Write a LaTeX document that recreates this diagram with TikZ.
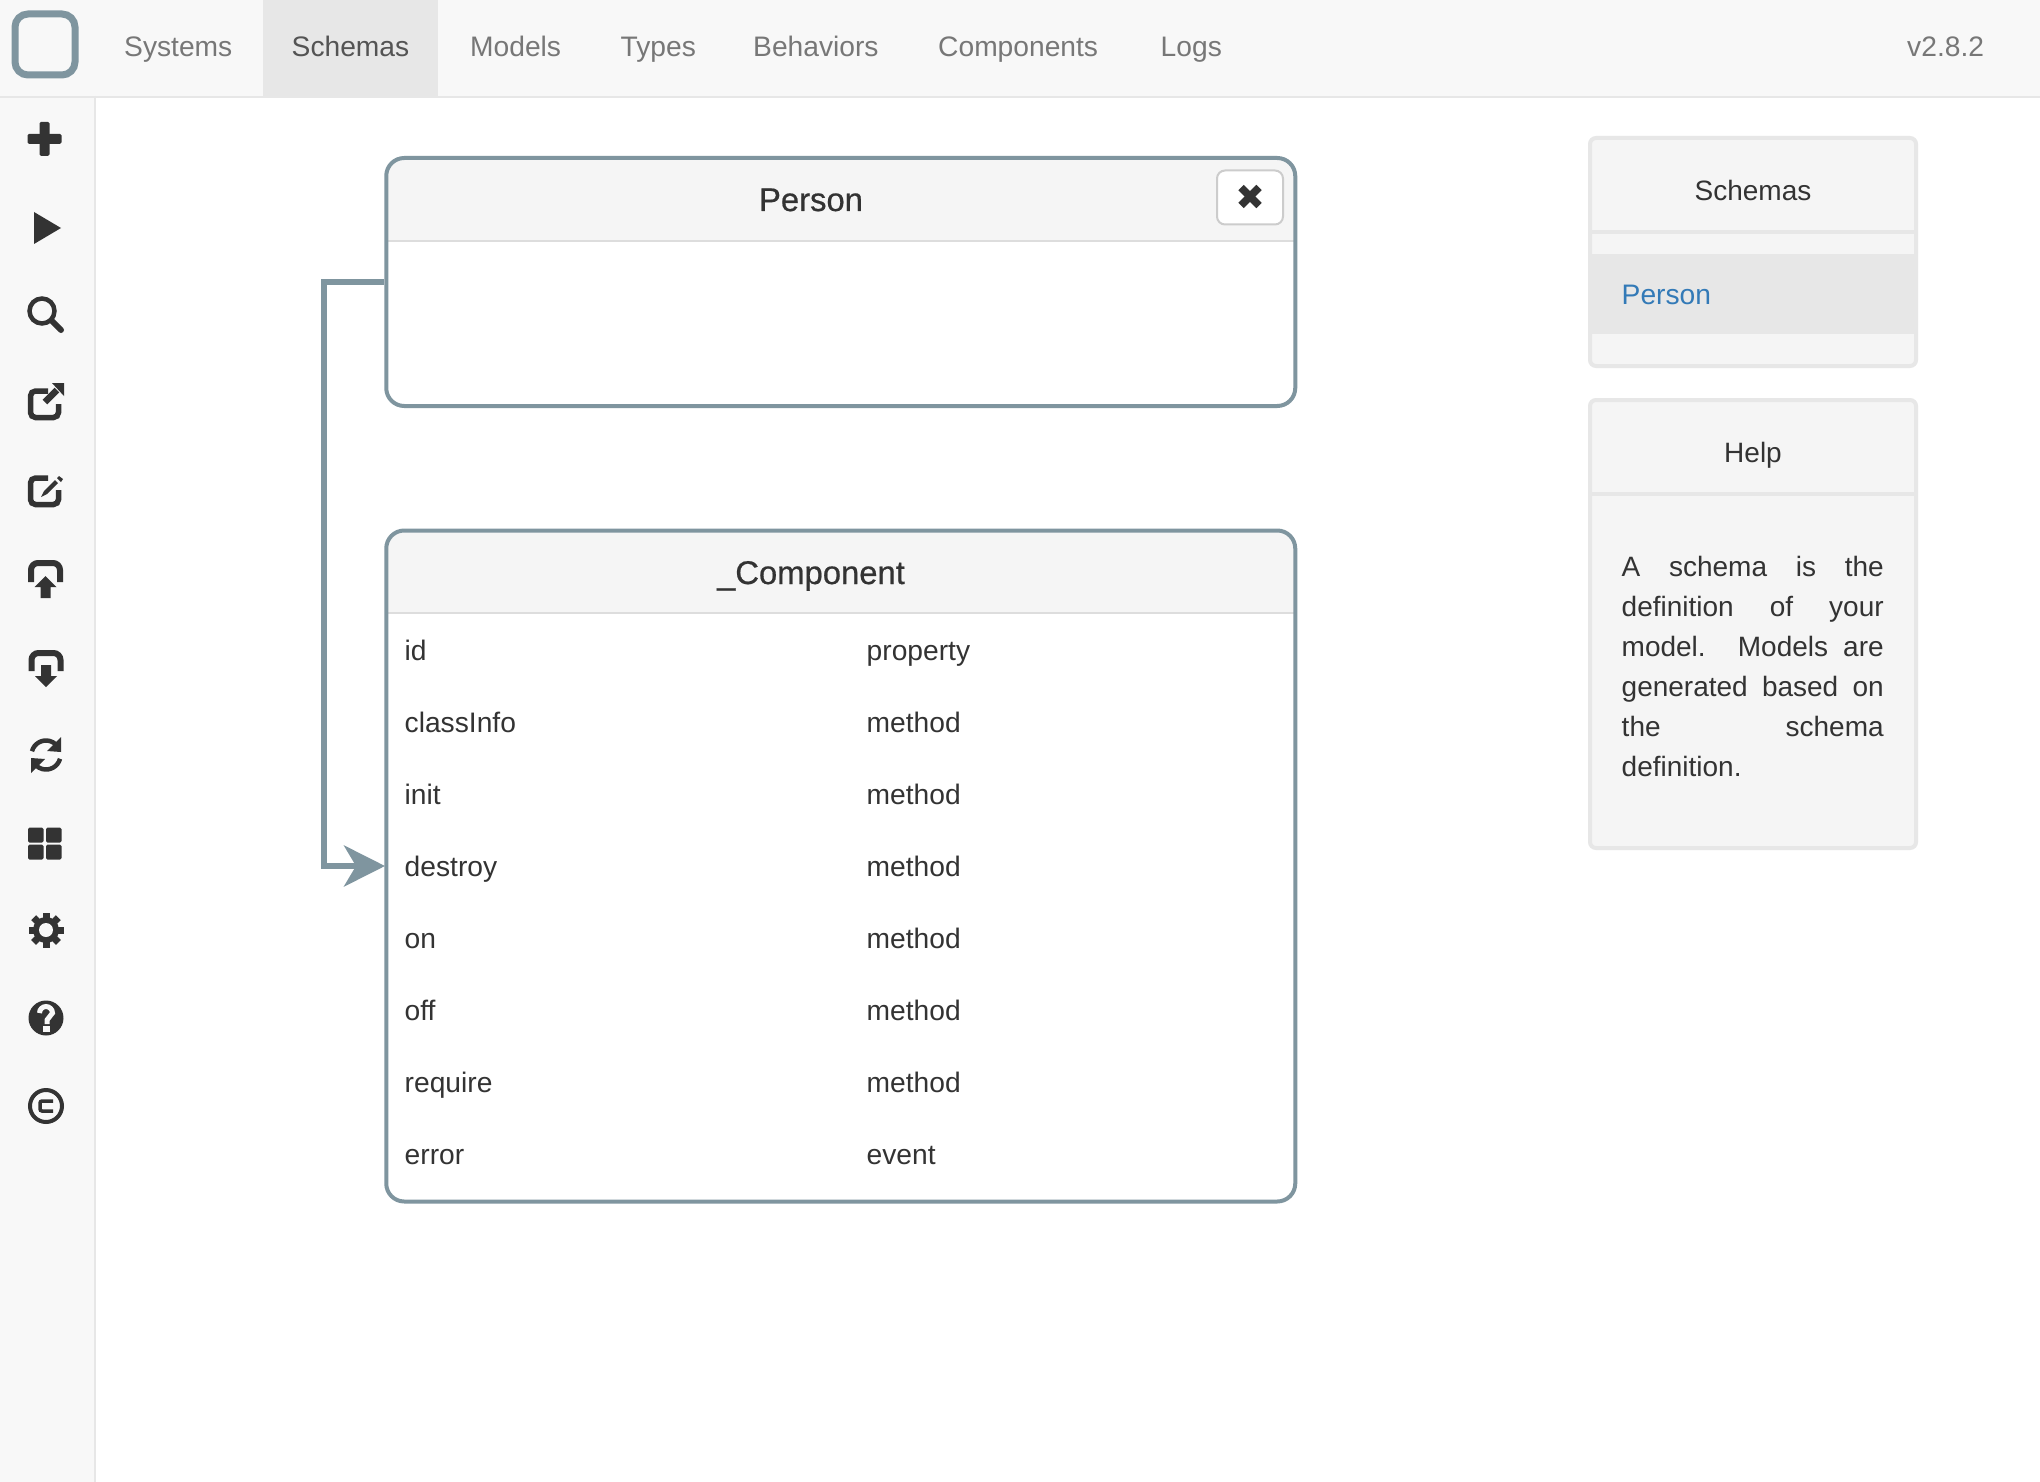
\documentclass[tikz,border=0pt]{standalone}
\usepackage{fontspec}
\setmainfont{Liberation Sans}
\newfontfamily\titlefont[FakeBold=0.6]{Liberation Sans}
\usetikzlibrary{arrows.meta}

\definecolor{barbg}{HTML}{F8F8F8}
\definecolor{barline}{HTML}{E7E7E7}
\definecolor{navtext}{HTML}{777777}
\definecolor{inktext}{HTML}{333333}
\definecolor{slate}{HTML}{7F959F}
\definecolor{headbg}{HTML}{F5F5F5}
\definecolor{headline}{HTML}{DDDDDD}
\definecolor{linkblue}{HTML}{337AB7}

\tikzset{
  navitem/.style={anchor=base west,inner sep=0pt,text=navtext,font=\fontsize{28.2}{34}\selectfont},
  rowtext/.style={anchor=base west,inner sep=0pt,text=inktext,font=\fontsize{28.2}{34}\selectfont},
  paneltitle/.style={anchor=base,inner sep=0pt,text=inktext,font=\fontsize{28}{34}\selectfont},
  boxtitle/.style={anchor=base,inner sep=0pt,text=inktext,font=\titlefont\fontsize{32.8}{38}\selectfont},
  schemabox/.style={draw=slate,line width=4pt,rounded corners=18pt,inner sep=0pt,minimum width=909pt},
  sidepanel/.style={draw=barline,fill=headbg,line width=4pt,rounded corners=6pt,inner sep=0pt,minimum width=326pt},
  linkline/.style={draw=slate,line width=6pt,-{Stealth[length=41pt,width=41pt,inset=12pt]}},
  iconink/.style={draw=inktext,fill=none,line width=5.5pt},
}

\begin{document}
\begin{tikzpicture}[x=1pt,y=-1pt]
  \useasboundingbox (0,0) rectangle (2040,1482);
  \fill[white] (0,0) rectangle (2040,1482);

  % bars
  \fill[barbg] (0,0) rectangle (95,1482);
  \fill[barbg] (0,0) rectangle (2040,96);
  \fill[barline] (263,0) rectangle (438,96);
  \draw[barline,line width=2pt] (95,96) -- (95,1482);
  \draw[barline,line width=2pt] (0,97) -- (2040,97);
  \draw[slate,line width=7pt,rounded corners=13pt] (15,14) rectangle (75,75);

  % menu
  \foreach \px/\label in {124/Systems,470/Models,620.5/Types,753/Behaviors,938/Components,1160.5/Logs,1907/v2.8.2}
    \node[navitem] (nav\label) at (\px,57) {\label};
  \node[navitem,text=black!67] (navSchemas) at (291.5,57) {Schemas};

  % sidebar icons
  \begin{scope}[shift={(44.5,139)}]
    \fill[inktext,rounded corners=1.5pt] (-17,-5) rectangle (17,5);
    \fill[inktext,rounded corners=1.5pt] (-5,-17) rectangle (5,17);
  \end{scope}
  \begin{scope}[shift={(46,228)}]
    \fill[inktext] (-12,-16) -- (15,0) -- (-12,16) -- cycle;
  \end{scope}
  \begin{scope}[shift={(46,315)}]
    \draw[iconink,line width=4.5pt] (-4,-4) circle (12.5pt);
    \draw[iconink,line width=6pt,line cap=round] (6,6) -- (15,15);
  \end{scope}
  \begin{scope}[shift={(46,402)}]
    \draw[iconink,rounded corners=5pt] (2,-11) -- (-15.5,-11) -- (-15.5,15.5) -- (12.5,15.5) -- (12.5,2);
    \fill[inktext] (6,-19) -- (18,-19) -- (18,-6) -- cycle;
    \draw[iconink,line width=6.5pt] (11,-12) -- (-1,0);
  \end{scope}
  \begin{scope}[shift={(46,490)}]
    \draw[iconink,rounded corners=5pt] (2,-12) -- (-15.5,-12) -- (-15.5,14.5) -- (12.5,14.5) -- (12.5,0);
    \fill[inktext] (-5,7) -- (-2,1) -- (9,-10) -- (12,-7) -- (1,4) -- cycle;
    \fill[inktext] (11,-12) -- (13,-14) -- (17,-11) -- (15,-8) -- cycle;
  \end{scope}
  \begin{scope}[shift={(45.5,578)}]
    \draw[iconink,line width=6pt,rounded corners=7pt] (-14.5,4) -- (-14.5,-15) -- (14.5,-15) -- (14.5,4);
    \fill[inktext] (0,-2) -- (11,9) -- (5,9) -- (5,20) -- (-5,20) -- (-5,9) -- (-11,9) -- cycle;
  \end{scope}
  \begin{scope}[shift={(46,668)}]
    \draw[iconink,line width=6pt,rounded corners=7pt] (-14.5,3) -- (-14.5,-15) -- (14.5,-15) -- (14.5,3);
    \fill[inktext] (0,19) -- (11,8) -- (5,8) -- (5,-3) -- (-5,-3) -- (-5,8) -- (-11,8) -- cycle;
  \end{scope}
  \begin{scope}[shift={(46,755)}]
    \draw[iconink,line width=4.5pt] ({14.5*cos(165)},{-14.5*sin(165)}) arc (165:45:14.5pt);
    \draw[iconink,line width=4.5pt] ({14.5*cos(15)},{14.5*sin(15)}) arc (-15:-135:14.5pt);
    \fill[inktext] (15,-18) -- (15,-3) -- (1,-4) -- cycle;
    \fill[inktext] (-15,18) -- (-15,3) -- (-1,4) -- cycle;
  \end{scope}
  \begin{scope}[shift={(44.5,843.5)}]
    \foreach \qx/\qy in {-16.5/-16,1.5/-16,-16.5/1,1.5/1}
      \fill[inktext,rounded corners=1.5pt] (\qx,\qy) rectangle ++(15.5,15);
  \end{scope}
  \begin{scope}[shift={(46,930)}]
    \foreach \a in {0,45,135,90}
      \fill[inktext,rotate=\a] (-3.5,-17.5) rectangle (3.5,17.5);
    \fill[inktext] (0,0) circle (13pt);
    \fill[barbg] (0,0) circle (7pt);
  \end{scope}
  \begin{scope}[shift={(46,1018)}]
    \fill[inktext] (0,0) circle (17.5pt);
    \draw[barbg,line width=5pt] (-6.5,-5) arc (180:0:6.5pt) -- (1,2) -- (1,6);
    \fill[barbg] (-3.5,8) rectangle (3.5,14);
  \end{scope}
  \begin{scope}[shift={(46,1106)}]
    \draw[iconink,line width=4pt] (0,0) circle (16pt);
    \draw[iconink,line width=3.5pt,rounded corners=2pt] (7,-5) -- (-6,-5) -- (-6,5) -- (7,5);
  \end{scope}

  % schema boxes
  \foreach \top/\low in {158/240.5,530.5/613}
    \fill[headbg] (386,\low) [rounded corners=18pt] -- (386,\top) -- (1295.5,\top) [sharp corners] -- (1295.5,\low) -- cycle;
  \draw[headline,line width=2pt] (388,241) -- (1294,241);
  \draw[headline,line width=2pt] (388,613) -- (1294,613);
  \node[schemabox,minimum height=248pt] (personbox) at (840.75,282) {};
  \node[schemabox,minimum height=671pt] (componentbox) at (840.75,866) {};
  \node[boxtitle] (persontitle) at (811,211) {Person};
  \node[boxtitle] (componenttitle) at (811,584) {\_Component};
  \node[draw=black!20,fill=white,line width=2pt,rounded corners=8pt,minimum width=66pt,minimum height=54pt,inner sep=0pt] (closebtn) at (1250,197.5) {};
  \draw[inktext,line width=7.5pt] ([shift={(-9,-10)}]closebtn.center) -- ([shift={(9,8)}]closebtn.center);
  \draw[inktext,line width=7.5pt] ([shift={(9,-10)}]closebtn.center) -- ([shift={(-9,8)}]closebtn.center);

  % members
  \foreach \member/\kind [count=\i] in {id/property,classInfo/method,init/method,destroy/method,on/method,off/method,require/method,error/event} {
    \node[rowtext] (member\i) at (404.5,{588+72*\i}) {\member};
    \node[rowtext] (kind\i) at (866.5,{588+72*\i}) {\kind};
  }

  % link
  \coordinate (bendtop) at (324,282);
  \coordinate (entry) at (385,866);
  \coordinate (bendlow) at (bendtop |- entry);
  \draw[linkline] (personbox.west) -- (bendtop) -- (bendlow) -- (entry);

  % right panels
  \node[sidepanel,minimum height=228pt] (schemaspanel) at (1753,252) {};
  \node[sidepanel,minimum height=448pt] (helppanel) at (1753,624) {};
  \draw[barline,line width=4pt] (1590,232) -- (1916,232);
  \draw[barline,line width=4pt] (1590,494) -- (1916,494);
  \fill[barline] (1590,254) rectangle (1916,334);
  \node[paneltitle] (schemastitle) at (1753,200.5) {Schemas};
  \node[paneltitle] (helptitle) at (1753,462) {Help};
  \node[rowtext,text=linkblue] (personlink) at (1621.5,304) {Person};
  \node[rowtext,font=\fontsize{28}{40}\selectfont,anchor=north west,align=left] (helptext) at (1621.5,556.5) {%
    \makebox[262pt][s]{A schema is the}\\
    \makebox[262pt][s]{definition of your}\\
    \makebox[262pt][s]{model. Models are}\\
    \makebox[262pt][s]{generated based on}\\
    \makebox[262pt][s]{the schema}\\
    definition.};
\end{tikzpicture}
\end{document}
